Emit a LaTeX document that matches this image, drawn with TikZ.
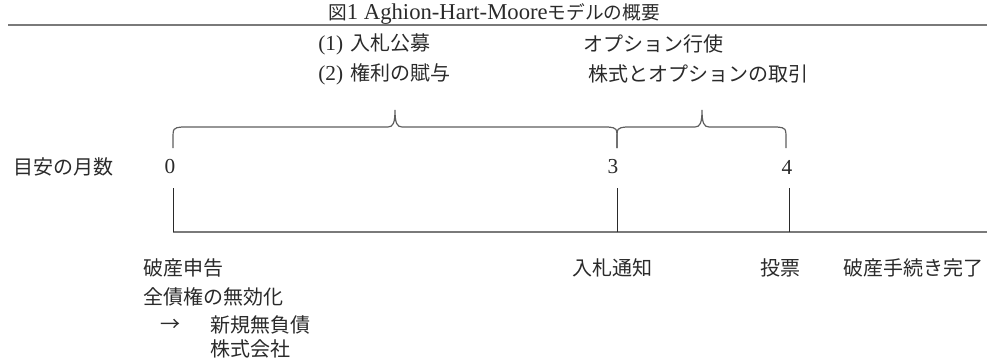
\documentclass[tikz,border=0pt]{standalone}
\usepackage{fontspec}
\setmainfont{Liberation Serif}
\newfontfamily\jpfont{Noto Sans CJK JP}
\definecolor{ink}{HTML}{2A2A2A}
\definecolor{rulegray}{HTML}{7A7A7A}
\definecolor{bracegray}{HTML}{5E5E5E}
\newcommand{\lat}[1]{{\rmfamily\fontsize{16}{19}\selectfont #1}}
\newcommand{\mybrace}[3]{%
  \draw[bracestyle] (#1,148) -- (#1,140) .. controls (#1,128) .. ({#1+9},127)
    -- ({#2-7},127) .. controls ({#2-2},127) and (#2,123) .. (#2,110)
    .. controls (#2,123) and ({#2+2},127) .. ({#2+7},127)
    -- ({#3-9},127) .. controls (#3,128) .. (#3,140) -- (#3,148);}
\begin{document}
\begin{tikzpicture}[x=0.75pt,y=-0.75pt,
  lbl/.style={anchor=west, inner sep=0pt, text=ink, font=\jpfont\fontsize{15}{18}\selectfont},
  num/.style={inner sep=0pt, text=ink, font=\rmfamily\fontsize{16}{19}\selectfont},
  ttl/.style={inner sep=0pt, text=ink, font=\rmfamily\fontsize{17}{20}\selectfont},
  toprule/.style={draw=rulegray, line width=1.4pt},
  baseline/.style={draw=rulegray, line width=1.2pt},
  tick/.style={draw=ink, line width=0.6pt},
  bracestyle/.style={draw=bracegray, line width=0.9pt}]
\useasboundingbox (0,0) rectangle (987,357);
% title and rule
\node[ttl] (title) at (494,14) {{\jpfont\fontsize{14}{17}\selectfont 図}1 Aghion-Hart-Moore{\jpfont\fontsize{14}{17}\selectfont モデルの概要}};
\coordinate (ruleL) at (8,25);
\coordinate (ruleR) at (987,25);
\draw[toprule] (ruleL) -- (ruleR);
% upper labels
\node[lbl] (a1) at (318,44) {\lat{(1)}\hspace{2pt} 入札公募};
\node[lbl] (a2) at (318,74) {\lat{(2)}\hspace{2pt} 権利の賦与};
\node[lbl] (b1) at (583,44) {オプション行使};
\node[lbl] (b2) at (588,74) {株式とオプションの取引};
% braces
\mybrace{173}{395}{617}
\mybrace{617}{702}{786}
% month row
\node[lbl] (mlabel) at (13,167) {目安の月数};
\node[num] (m0) at (170,167) {0};
\node[num] (m3) at (613,167) {3};
\node[num] (m4) at (787,167) {4};
% timeline
\coordinate (t0a) at (173,188); \coordinate (t0b) at (173,232);
\coordinate (t3a) at (617,188); \coordinate (t3b) at (617,232);
\coordinate (t4a) at (789,188); \coordinate (t4b) at (789,232);
\coordinate (lineR) at (987,232);
\draw[baseline] (t0b) -- (lineR);
\draw[tick] (t0a) -- (t0b);
\draw[tick] (t3a) -- (t3b);
\draw[tick] (t4a) -- (t4b);
% lower labels
\node[lbl] (c1) at (143,268) {破産申告};
\node[lbl] (c2) at (143,297) {全債権の無効化};
\node[lbl] (c3) at (160,325) {→};
\node[lbl] (c4) at (210,325) {新規無負債};
\node[lbl] (c5) at (210,349) {株式会社};
\node[lbl] (d1) at (572,268) {入札通知};
\node[lbl] (d2) at (760,268) {投票};
\node[lbl] (d3) at (843,268) {破産手続き完了};
\end{tikzpicture}
\end{document}
